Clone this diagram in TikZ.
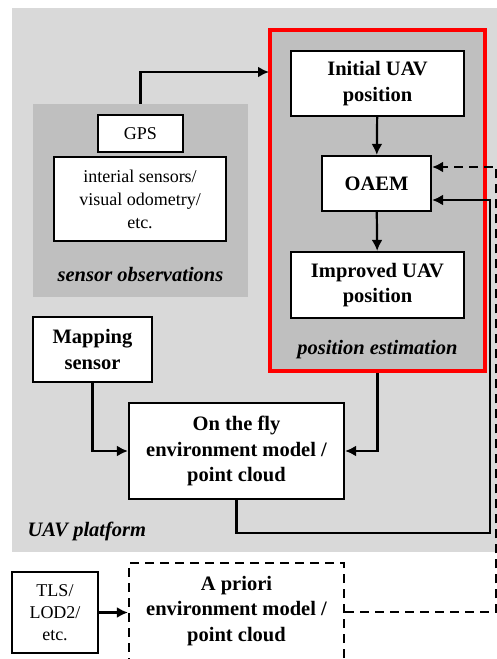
\documentclass[tikz,border=0pt]{standalone}
\usepackage{fontspec}
\setmainfont{Liberation Serif}
\usetikzlibrary{arrows.meta}
\definecolor{platgray}{HTML}{D9D9D9}
\definecolor{groupgray}{HTML}{BFBFBF}
\definecolor{estred}{HTML}{FF0000}
\begin{document}
\begin{tikzpicture}[x=1pt,y=-1pt,
  box/.style={draw, line width=2.2pt, fill=white, align=center, inner sep=0pt},
  dbox/.style={draw, line width=2.2pt, dash pattern=on 9pt off 6pt, align=center, inner sep=0pt},
  bl/.style={font=\fontsize{20.5}{25.5}\selectfont\bfseries, align=center},
  rg/.style={font=\fontsize{18}{23}\selectfont, align=center},
  grp/.style={font=\fontsize{20.5}{24}\selectfont\bfseries\itshape},
  conn/.style={line width=2.2pt, -{Latex[length=11pt,width=11pt]}},
  dconn/.style={conn, dash pattern=on 9pt off 6pt}]
\useasboundingbox (0,0) rectangle (496,659);

% UAV platform background
\fill[platgray] (12,8) rectangle (505,552);
\node[grp, anchor=west] (plat) at (24,531) {UAV platform};

% sensor observations group
\node[fill=groupgray, minimum width=215, minimum height=193, inner sep=0pt] (sobs) at (140.5,200.5) {};
\node[box, rg, minimum width=85, minimum height=37] (gps) at (140.5,133.5) {GPS};
\node[box, rg, minimum width=172, minimum height=84] (ins) at (140,199) {interial sensors/\\visual odometry/\\etc.};
\node[grp] (sobslbl) at (140.5,274) {sensor observations};

% position estimation group
\node[draw=estred, fill=groupgray, line width=3.5pt, minimum width=215, minimum height=341, inner sep=0pt] (pest) at (377.5,200.5) {};
\node[box, bl, minimum width=173, minimum height=65] (init) at (377.5,83.5) {Initial UAV\\position};
\node[box, bl, minimum width=109, minimum height=55] (oaem) at (376.5,183.5) {OAEM};
\node[box, bl, minimum width=173, minimum height=66] (impr) at (377.5,285) {Improved UAV\\position};
\node[grp] (pestlbl) at (377.5,350) {position estimation};

% mapping and on-the-fly model
\node[box, bl, minimum width=119, minimum height=65] (map) at (92.5,349.5) {Mapping\\sensor};
\node[box, bl, minimum width=215, minimum height=96] (fly) at (236.5,451) {On the fly\\environment model /\\point cloud};

% a priori model
\node[box, rg, minimum width=86, minimum height=81, font=\fontsize{18}{22}\selectfont] (tls) at (55,612.5) {TLS/\\LOD2/\\etc.};
\node[dbox, minimum width=215, minimum height=120] (apri) at (236.5,623) {};
\node[bl] (apritxt) at (236.5,611) {A priori\\environment model /\\point cloud};

% routing points
\coordinate (gpsin) at (269,72);
\coordinate (rb) at (490,533);
\coordinate (rt) at (490,200);
\coordinate (db) at (496.5,612);
\coordinate (dt) at (496.5,167);

% connectors
\draw[conn] (sobs.north) |- (gpsin);
\draw[conn] (init) -- (oaem);
\draw[conn] (oaem) -- (impr);
\draw[conn] (map.south) |- (fly.west);
\draw[conn] (pest.south) |- (fly.east);
\draw[conn] (fly.south) |- (rb) -- (rt) -- (oaem.east |- rt);
\draw[conn] (tls.east) -- (tls.east -| apri.west);
\draw[dconn] (apri.east |- db) -- (db) -- (dt) -- (oaem.east |- dt);
\end{tikzpicture}
\end{document}
